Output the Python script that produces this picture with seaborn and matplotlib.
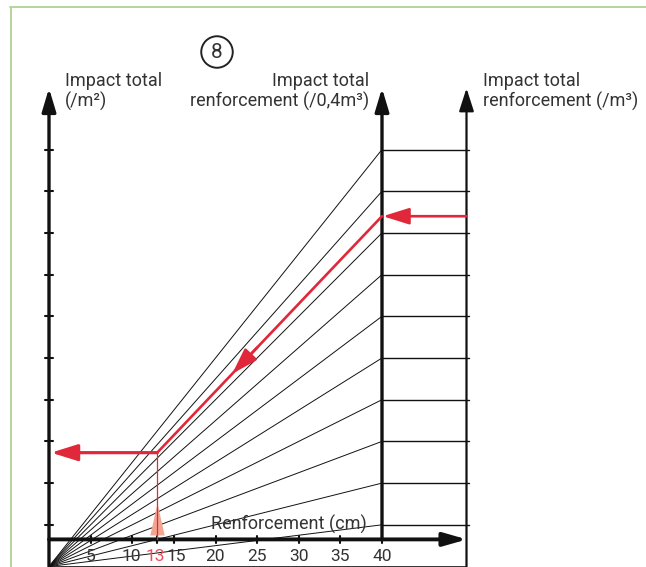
import matplotlib

matplotlib.use("Agg")

import matplotlib.pyplot as plt
import numpy as np
import pandas as pd
import seaborn as sns

# ---------------------------------------------------------------------------
# Data (read off the reference abacus)
# ---------------------------------------------------------------------------

fan_levels = [1, 2, 3, 4, 5, 6, 7, 8, 9, 10]      # impact level reached at 40 cm
x_ticks = [5, 10, 15, 20, 25, 30, 35, 40]          # reinforcement thickness (cm)
x_read = 13                                        # thickness read in red
impact_read = 8.4                                  # level entered on the right axis
x_max = 40

# ---------------------------------------------------------------------------
# Layout (pixel geometry of the drawing)
# ---------------------------------------------------------------------------

W, H, DPI = 646, 567, 100
PX_X, PX_Y = 8.325, 41.7       # pixels per cm / per impact unit
ORIG = (49, 566.5)             # pixel position of data (0, 0)
X_RIGHT = 50.15                # right-hand axis position (cm units)
X_AXIS_Y = 0.65                # height of the thickness axis
AXIS_TOP = 11.47               # arrow tips of the vertical axes

RED = "#e0283a"
RED_LIGHT = "#ef4b5a"
PALE = "#f4a592"
INK = "#111111"
TXT = "#333333"
GREEN = "#b3d59b"

sns.set_theme(style="white")
plt.rcParams["font.family"] = ["Roboto", "DejaVu Sans"]

fig = plt.figure(figsize=(W / DPI, H / DPI), dpi=DPI)
ax = fig.add_axes([0, 0, 1, 1])
ax.set_xlim(-ORIG[0] / PX_X, (W - ORIG[0]) / PX_X)
ax.set_ylim(-(H - ORIG[1]) / PX_Y, ORIG[1] / PX_Y)
ax.axis("off")


def px(x, y):
    return x / W, 1 - y / H


def arrow(x0, y0, x1, y1, color, lw, hl, hw, z=5):
    ax.annotate(
        "",
        xy=(x1, y1),
        xytext=(x0, y0),
        arrowprops=dict(
            arrowstyle=f"-|>,head_length={hl},head_width={hw}",
            color=color,
            lw=lw,
            shrinkA=0,
            shrinkB=0,
            mutation_scale=10,
        ),
        zorder=z,
    )


# green frame of the page
fig.add_artist(plt.Line2D([10 / W, 1], [1 - 6.5 / H] * 2, color=GREEN, lw=1.4))
fig.add_artist(plt.Line2D([10.5 / W] * 2, [0, 1 - 6.5 / H], color=GREEN, lw=1.4))

# fan of lines from the origin to each level at 40 cm
fan = pd.DataFrame(
    {
        "x": [0, x_max] * len(fan_levels),
        "y": [v for lv in fan_levels for v in (0, lv)],
        "line": [lv for lv in fan_levels for _ in range(2)],
    }
)
sns.lineplot(
    data=fan, x="x", y="y", units="line", estimator=None,
    color=INK, lw=0.7, legend=False, ax=ax,
)

# horizontal transfer lines between the 40 cm axis and the right axis
for lv in fan_levels:
    ax.plot([x_max, X_RIGHT + 0.35], [lv, lv], color=INK, lw=1.0, zorder=3)
    ax.plot([-0.45, 0.45], [lv, lv], color=INK, lw=1.5, zorder=3)

# axes of the abacus
ax.plot([0, X_RIGHT], [0, 0], color=INK, lw=1.2, zorder=3)
arrow(0, 0, 0, AXIS_TOP, INK, 2.4, 1.4, 0.42)
arrow(x_max, X_AXIS_Y, x_max, AXIS_TOP, INK, 2.4, 1.4, 0.42)
arrow(X_RIGHT, 0, X_RIGHT, AXIS_TOP, INK, 1.6, 1.4, 0.45)
arrow(0, X_AXIS_Y, X_RIGHT + 0.05, X_AXIS_Y, INK, 2.8, 1.4, 0.4)
for xt in x_ticks:
    ax.plot([xt, xt], [X_AXIS_Y - 0.08, X_AXIS_Y + 0.09], color=INK, lw=1.5, zorder=3)
ax.plot([x_read, x_read], [X_AXIS_Y - 0.08, X_AXIS_Y + 0.09], color=INK, lw=1.5, zorder=3)

# red reading path
y_read = impact_read * x_read / x_max
arrow(X_RIGHT, impact_read, x_max + 0.1, impact_read, RED, 1.9, 1.6, 0.5, z=6)
ax.plot([x_max, x_read], [impact_read, y_read], color=RED, lw=1.9, zorder=6)
xa0, xa1 = 25.0, 22.0
arrow(xa0, impact_read * xa0 / x_max, xa1, impact_read * xa1 / x_max,
      RED, 1.9, 1.6, 0.5, z=6)
arrow(x_read, y_read, 0.25, y_read, RED, 2.3, 1.6, 0.5, z=6)
ax.plot([x_read, x_read], [y_read, X_AXIS_Y], color=RED, lw=0.9, zorder=7)
tri = [(-0.45, -1), (0.45, -1), (0, 1)]
ax.plot([x_read], [1.15], marker=tri, ms=23, color=PALE, mec="none", zorder=6)

# tick labels ("13" and "15" are squeezed apart a little, as in the print)
nudge = {10: -1, 15: 2}
for xt in x_ticks:
    x_px = ORIG[0] + xt * PX_X + nudge.get(xt, 0)
    fig.text(*px(x_px, 561), str(xt), ha="center", va="baseline",
             fontsize=12.5, color=TXT)
fig.text(*px(ORIG[0] + x_read * PX_X - 1.5, 561), str(x_read), ha="center",
         va="baseline", fontsize=12.5, color=RED_LIGHT)

# axis titles
fs = 13
fig.text(*px(367, 530), "Renforcement (cm)", ha="right", va="baseline",
         fontsize=fs, color=TXT)
fig.text(*px(65, 86), "Impact total", ha="left", va="baseline", fontsize=fs, color=TXT)
fig.text(*px(65, 107), "(/m²)", ha="left", va="baseline", fontsize=fs, color=TXT)
fig.text(*px(369, 86), "Impact total", ha="right", va="baseline", fontsize=fs, color=TXT)
fig.text(*px(369, 107), "renforcement (/0,4m³)", ha="right", va="baseline",
         fontsize=fs, color=TXT)
fig.text(*px(483, 86), "Impact total", ha="left", va="baseline", fontsize=fs, color=TXT)
fig.text(*px(483, 107), "renforcement (/m³)", ha="left", va="baseline",
         fontsize=fs, color=TXT)

# circled step number
fig.text(*px(217, 52), "8", ha="center", va="center", fontsize=15, color=TXT,
         bbox=dict(boxstyle="circle,pad=0.3", fc="white", ec="#222222", lw=1.4))

fig.savefig("out.png", dpi=DPI)
